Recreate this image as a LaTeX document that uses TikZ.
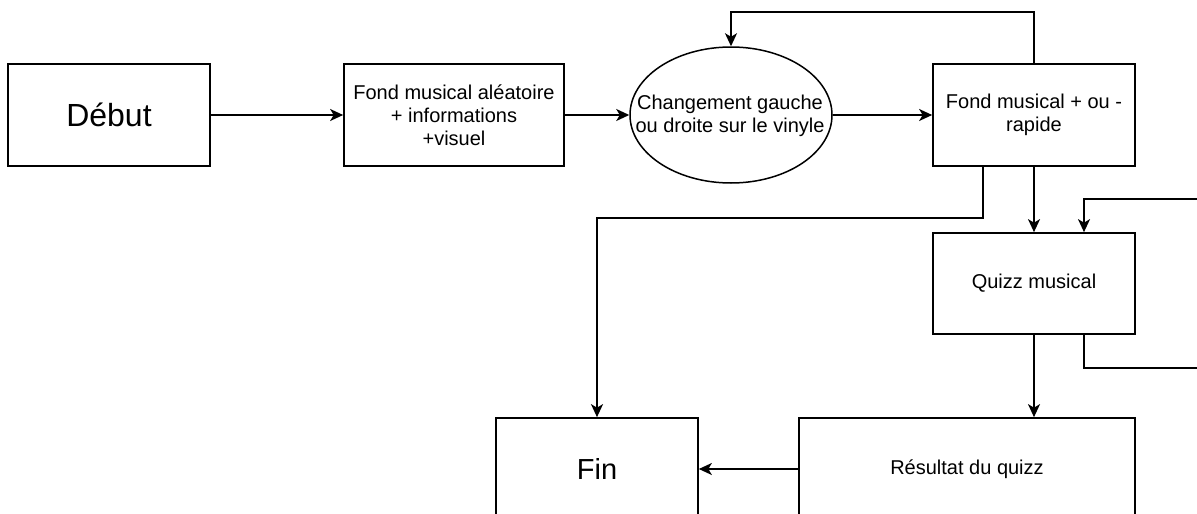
\documentclass[tikz,border=0pt]{standalone}
\usepackage{fontspec}
\setmainfont{Liberation Sans}
\usetikzlibrary{shapes.geometric,arrows.meta,calc}
\tikzset{
  box/.style={draw, line width=1.7pt, inner sep=0pt, align=center, font=\fontsize{20}{23}\selectfont},
  bigtxt/.style={font=\fontsize{32}{36}\selectfont},
  fintxt/.style={font=\fontsize{29}{33}\selectfont},
  oval/.style={ellipse, draw, line width=1.5pt, inner sep=0pt, minimum width=202pt, minimum height=136pt},
  plain/.style={inner sep=0pt, align=center, font=\fontsize{20}{23}\selectfont},
  conn/.style={line width=1.7pt, -{Stealth[length=13pt,width=12pt,inset=3.5pt]}},
  line/.style={line width=1.7pt}
}
\begin{document}
\begin{tikzpicture}[x=1pt,y=-1pt]
\useasboundingbox (0,0) rectangle (1197,514);
\fill[white] (0,0) rectangle (1197,514);
\clip (0,0) rectangle (1197,514);

\node[box, bigtxt, minimum width=202pt, minimum height=102pt] (debut) at (109,115) {Début};
\node[box, minimum width=220pt, minimum height=102pt] (alea) at (454,115) {Fond musical aléatoire\\+ informations\\+visuel};
\node[oval] (chg) at (731,115) {};
\node[plain] (chgtxt) at (730,116) {Changement gauche\\ou droite sur le vinyle};
\node[box, minimum width=202pt, minimum height=102pt] (rapide) at (1034,115) {Fond musical + ou -\\rapide};
\node[box, minimum width=202pt, minimum height=101pt] (quiz) at (1034,283.5) {Quizz musical};
\node[box, fintxt, minimum width=202pt, minimum height=102pt] (fin) at (597,469) {Fin};
\node[box, minimum width=336pt, minimum height=102pt] (res) at (967,469) {Résultat du quizz};

\coordinate (inR) at (1200,199);
\coordinate (outR) at (1200,368);

\draw[conn] (debut) -- (alea);
\draw[conn] (alea) -- (chg);
\draw[conn] (chg) -- (rapide);
\draw[conn] (rapide.north) -- ++(0,-51) -| (chg.north);
\draw[conn] ([xshift=-51pt]rapide.south) -- ++(0,51) -| (fin.north);
\draw[conn] (rapide.south) -- (quiz.north);
\draw[conn] (inR) -| ([xshift=50pt]quiz.north);
\draw[line] ([xshift=50pt]quiz.south) |- (outR);
\draw[conn] (quiz.south) -- (quiz.south |- res.north);
\draw[conn] (res.west) -- (res.west -| fin.east);
\end{tikzpicture}
\end{document}
